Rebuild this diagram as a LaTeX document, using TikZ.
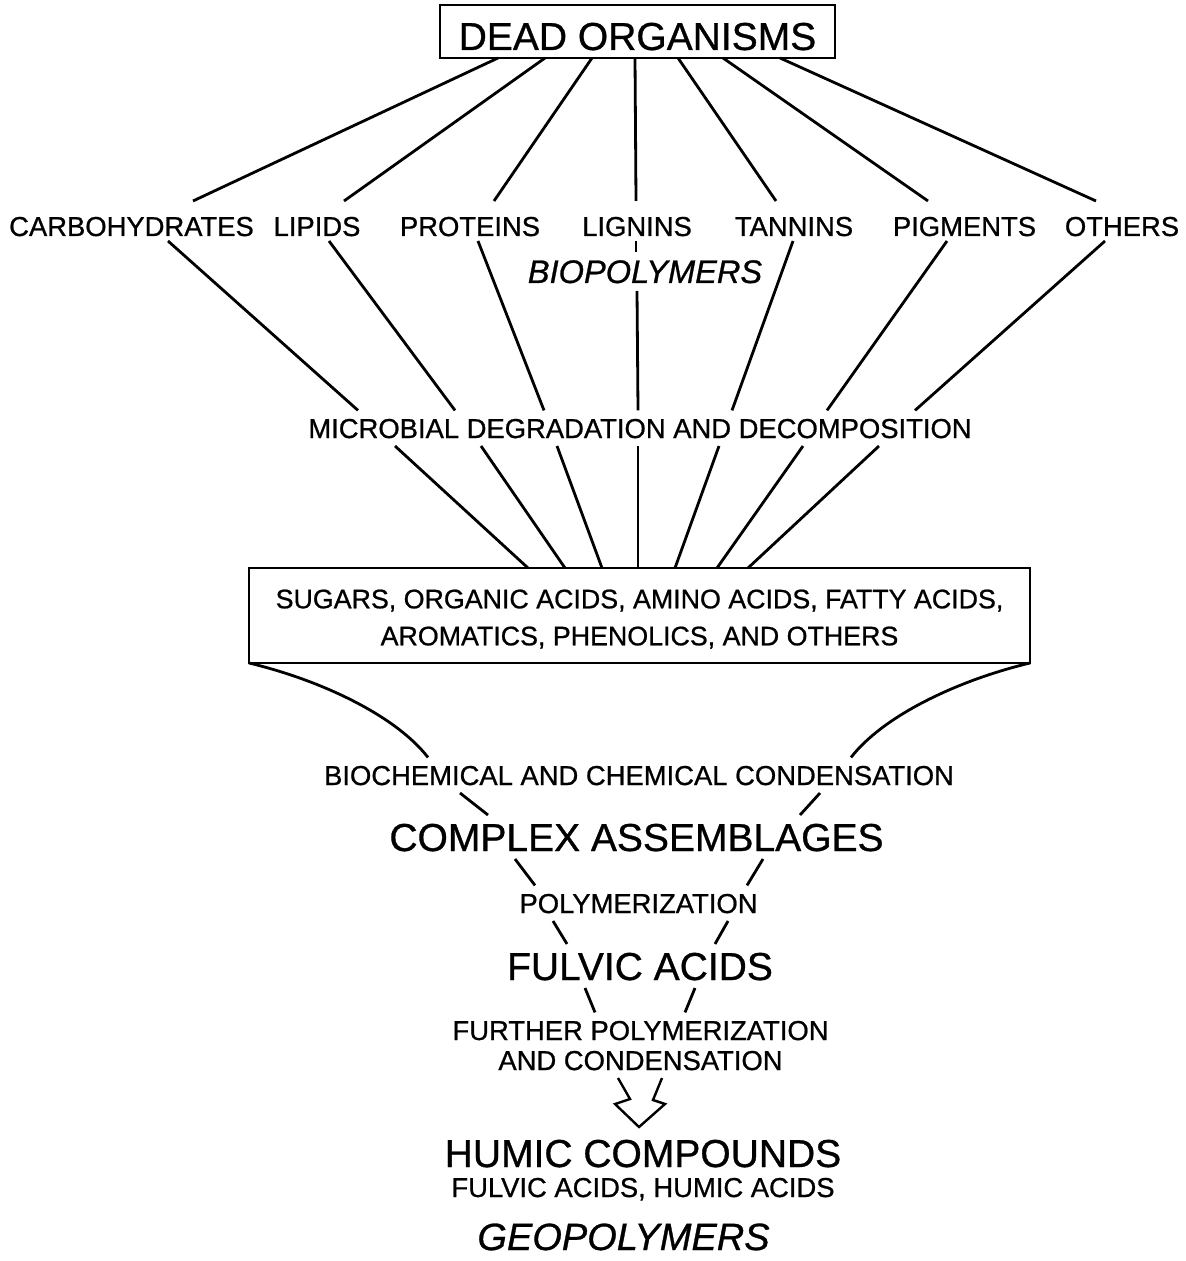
\documentclass[tikz,border=0pt]{standalone}
\usepackage{fontspec}
\setmainfont[FakeBold=0.8]{Liberation Sans}

\tikzset{
    lab/.style={inner xsep=0pt, inner ysep=4pt, outer sep=0pt, text depth=0pt, anchor=base},
    small/.style={lab, font=\fontsize{13.7}{16}\selectfont, text height=9.8pt},
    big/.style={lab, font=\fontsize{19.5}{23}\selectfont, text height=14pt},
    rowlab/.style={small, text height=15pt, inner ysep=2.5pt},
    slant/.style={lab, font=\fontsize{#1}{20}\selectfont\itshape},
}

\begin{document}
\begin{tikzpicture}[x=0.5pt, y=-0.5pt, line width=1.4pt]
    \useasboundingbox (0,0) rectangle (1186,1261);

    % Top box
    \node[draw, big, minimum width=197.5pt, text height=18.5pt] (dead) at (637.5,50) {DEAD ORGANISMS};

    % Biopolymers row (baseline 236)
    \node[rowlab] (carb)  at (131.5,236) {CARBOHYDRATES};
    \node[rowlab] (lipid) at (317,236)   {LIPIDS};
    \node[rowlab] (prot)  at (470,236)   {PROTEINS};
    \node[rowlab] (lign)  at (637,236)   {LIGNINS};
    \node[rowlab] (tann)  at (794,236)   {TANNINS};
    \node[rowlab] (pigm)  at (964.5,236) {PIGMENTS};
    \node[rowlab] (oth)   at (1122,236)  {OTHERS};
    \node[slant=16.3, text height=11.7pt] (biopol) at (645,283) {BIOPOLYMERS};

    \node[small] (micro) at (640,438) {MICROBIAL DEGRADATION AND DECOMPOSITION};

    % Middle box
    \node[draw, align=center, minimum width=390.5pt, minimum height=47.5pt, inner sep=0pt, outer sep=0pt,
          font=\fontsize{13.4}{18.5}\selectfont] (sugar) at (639.5,615.5)
          {\rule{0pt}{13pt}SUGARS, ORGANIC ACIDS, AMINO ACIDS, FATTY ACIDS,\\ AROMATICS, PHENOLICS, AND OTHERS};

    % Lower chain
    \node[small] (biochem) at (639,785)    {BIOCHEMICAL AND CHEMICAL CONDENSATION};
    \node[big]   (cplx)    at (636.5,851)  {COMPLEX ASSEMBLAGES};
    \node[small] (polym)   at (638.5,913)  {POLYMERIZATION};
    \node[big]   (fulvic)  at (640,980)    {FULVIC ACIDS};
    \node[small] (further) at (640.5,1040) {FURTHER POLYMERIZATION};
    \node[small] (andcond) at (640.5,1070) {AND CONDENSATION};
    \node[big]   (humic)   at (643,1167)   {HUMIC COMPOUNDS};
    \node[small] (humacid) at (643,1197)   {FULVIC ACIDS, HUMIC ACIDS};
    \node[slant=19, text height=14pt] (geopol) at (623.5,1250) {GEOPOLYMERS};

    % Fan from the top box to the row
    \foreach \n/\a/\b in {carb/498/193, lipid/545/344, prot/592/494, lign/635/636, tann/678/776, pigm/723/928, oth/780/1096}
        \draw (dead.south -| \a,0) -- (\n.north -| \b,0);

    % Row down to microbial degradation
    \foreach \n/\a/\b in {carb/168/358, lipid/329/455, prot/478/544, tann/793/732, pigm/947/827, oth/1105/915}
        \draw (\n.south -| \a,0) -- (micro.north -| \b,0);
    \draw (lign.south -| 636,0) -- (biopol.north -| 636,0);
    \draw (biopol.south -| 637,0) -- (micro.north -| 638,0);

    % Microbial degradation down to the box
    \foreach \a/\b in {395/528, 481/565, 557/602, 638/638, 719/675, 803/717, 879/748}
        \draw (micro.south -| \a,0) -- (sugar.north -| \b,0);

    % Funnel curves
    \draw (sugar.south west) .. controls (320,680) and (395,715) .. (biochem.north -| 428,0);
    \draw (sugar.south east) .. controls (959,680) and (884,715) .. (biochem.north -| 851,0);

    % V strokes between the steps
    \foreach \p/\q/\a/\b/\c/\d in {biochem/cplx/460/488/820/800, cplx/polym/515/535/763/747,
                                  polym/fulvic/553/567/728/715, fulvic/further/585/595/695/685} {
        \draw (\p.south -| \a,0) -- (\q.north -| \b,0);
        \draw (\p.south -| \c,0) -- (\q.north -| \d,0);
    }

    % Hollow zigzag arrow
    \draw[line width=1.2pt, line join=miter] (andcond.south -| 618,0) -- ++(12,21) -- ++(-15,5) -- ++(24,23)
        -- ++(26,-23) -- ++(-12,-4) -- ++(9,-22);
\end{tikzpicture}
\end{document}
